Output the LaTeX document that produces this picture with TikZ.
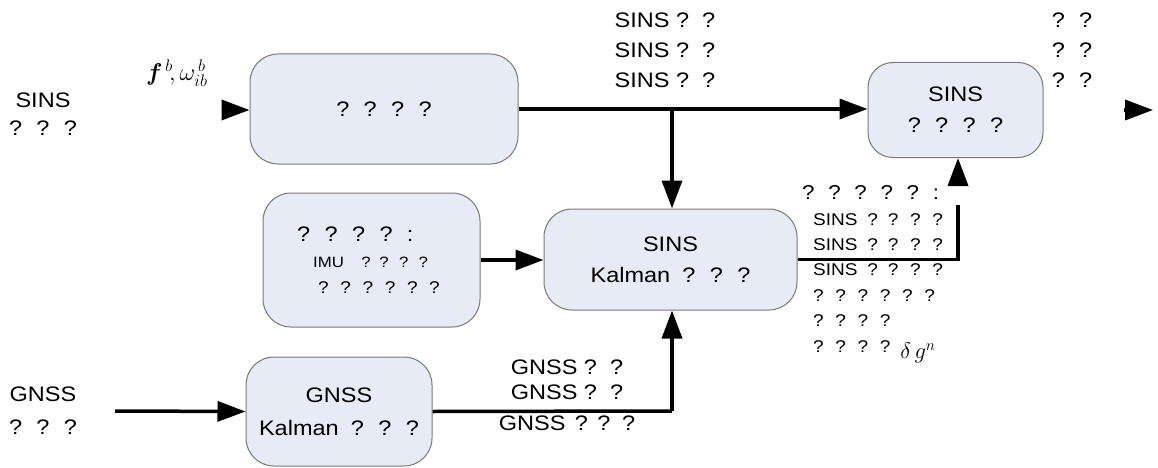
\documentclass[tikz,border=0pt]{standalone}
\usepackage{fontspec}
\usepackage{bm}
\setmainfont{Liberation Sans}[FakeStretch=1.12]
\usetikzlibrary{arrows.meta}
\definecolor{boxfill}{RGB}{230,235,245}
\definecolor{boxline}{RGB}{120,120,120}
\newcommand{\wsp}{\spaceskip=0.58em\relax}
\newcommand{\msp}{\spaceskip=0.45em\relax}
\begin{document}
\begin{tikzpicture}[x=1pt,y=-1pt,
 box/.style={draw=boxline, fill=boxfill, rounded corners=28pt, line width=1pt, align=center, inner sep=0pt, font=\fontsize{21}{31}\selectfont\wsp},
 lbl/.style={align=center, inner sep=0pt, font=\fontsize{21}{30}\selectfont},
 small/.style={anchor=west, inner sep=0pt, font=\fontsize{17}{20}\selectfont\wsp},
 arr/.style={line width=3.5pt, -{Triangle[length=28pt,width=20pt]}},
 wire/.style={line width=3.5pt}]
\useasboundingbox (0,0) rectangle (1158,468);
% boxes
\node[box, minimum width=268pt, minimum height=110pt] (A) at (384,109) {? ? ? ?};
\node[box, minimum width=175pt, minimum height=95pt, rounded corners=25pt] (D) at (955.5,110) {SINS\\? ? ? ?};
\node[box, minimum width=253pt, minimum height=101pt] (C) at (670.5,259.5) {SINS\\Kalman ? ? ?};
\node[box, minimum width=217pt, minimum height=134pt] (B) at (371.5,260) {};
\node[box, minimum width=186pt, minimum height=109pt, font=\fontsize{21}{33}\selectfont\wsp] (E) at (339,411.5) {GNSS\\Kalman ? ? ?};
% text in B
\node[small, font=\fontsize{21}{24}\selectfont\wsp] (b1) at (297,234) {? ? ? ? :};
\node[small, font=\fontsize{15}{18}\selectfont\wsp] (b2) at (313,262) {IMU \ ? ? ? ?};
\node[small] (b3) at (318,288) {? ? ? ? ? ?};
% free labels
\node[lbl, font=\fontsize{21}{28}\selectfont\wsp] (sinsin) at (43,114) {SINS\\? ? ?};
\node[lbl, font=\fontsize{21}{33}\selectfont\wsp] (gnssin) at (43,411) {GNSS\\? ? ?};
\node[lbl, font=\fontsize{17}{20}\selectfont, scale=1.4, transform shape] (fw) at (177,73) {$\bm{f}^{\,b}\!,\omega^{\,b}_{ib}$};
\node[lbl] (sinsout) at (665,50) {SINS ? \ ?\\SINS ? \ ?\\SINS ? \ ?};
\node[lbl, font=\fontsize{21}{30}\selectfont\wsp] (qq) at (1072,50) {? ?\\? ?\\? ?};
\node[lbl] (g1) at (567,367) {GNSS ? \ ?};
\node[lbl] (g2) at (567,392) {GNSS ? \ ?};
\node[lbl, font=\fontsize{21}{30}\selectfont\msp] (g3) at (567,423) {GNSS ? ? ?};
% right list
\node[small, font=\fontsize{20}{24}\selectfont\wsp] (r0) at (802,193) {? ? ? ? ? :};
\node[small] (r1) at (813,220) {SINS ? ? ? ?};
\node[small] (r2) at (813,245) {SINS ? ? ? ?};
\node[small] (r3) at (813,270) {SINS ? ? ? ?};
\node[small] (r4) at (813,296) {? ? ? ? ? ?};
\node[small] (r5) at (813,321) {? ? ? ?};
\node[small] (r6) at (813,347) {? ? ? ?};
\node[small, font=\fontsize{17}{20}\selectfont, scale=1.3, transform shape] (dg) at (900,353) {$\delta\, g^{n}$};
% connectors
\coordinate (a0) at (222,110);
\coordinate (j1) at (672,110);
\coordinate (j2) at (958,205);
\coordinate (j3) at (958,186);
\coordinate (j4) at (672,411);
\coordinate (g0) at (115,411);
\coordinate (o0) at (1124,110);
\coordinate (o1) at (1153,110);
\draw[arr] (a0) -- (a0 -| A.west);
\draw[arr] (A.east) -- (A.east -| D.west);
\draw[arr] (j1) -- (j1 |- C.north);
\draw[arr] (B.east) -- (B.east -| C.west);
\draw[wire] (C.east) -- (C.east -| j2) -- (j2);
\draw[arr] (j3) -- (j3 |- D.south);
\draw[wire] (E.east) -- (j4);
\draw[arr] (j4) -- (j4 |- C.south);
\draw[arr] (g0) -- (E.west);
\draw[arr] (o0) -- (o1);
\end{tikzpicture}
\end{document}
